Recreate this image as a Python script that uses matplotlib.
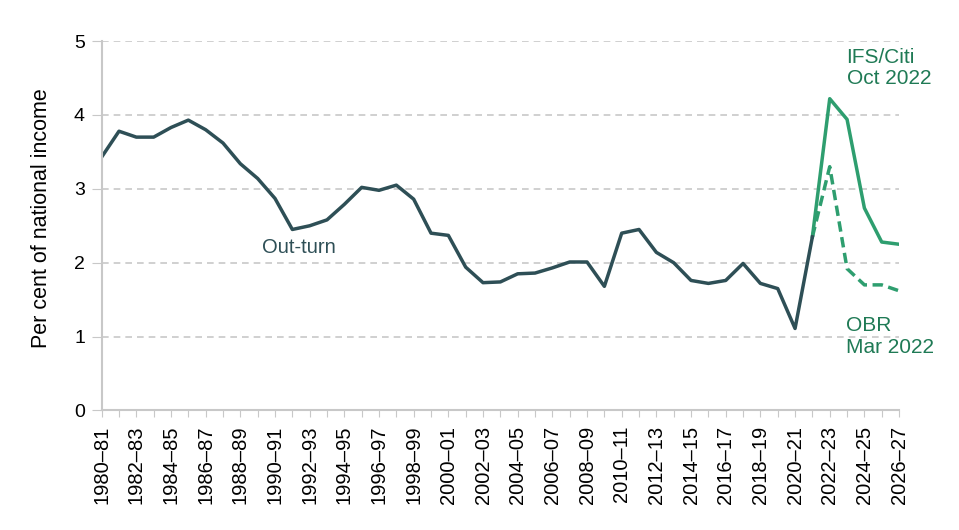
import matplotlib.pyplot as plt

plt.rcParams['font.family'] = ['Liberation Sans', 'DejaVu Sans']

# financial years 1980-81 .. 2026-27
years = ['%d\u2013%02d' % (y, (y + 1) % 100) for y in range(1980, 2027)]

# out-turn, 1980-81 to 2021-22
outturn = [3.43, 3.78, 3.70, 3.70, 3.83, 3.93, 3.80, 3.62, 3.34, 3.14,
           2.87, 2.45, 2.50, 2.58, 2.79, 3.02, 2.98, 3.05, 2.86, 2.40,
           2.37, 1.94, 1.73, 1.74, 1.85, 1.86, 1.93, 2.01, 2.01, 1.68,
           2.40, 2.45, 2.14, 2.00, 1.76, 1.72, 1.76, 1.99, 1.72, 1.65,
           1.11, 2.35]

# forecasts, 2021-22 to 2026-27
ifs_citi = [2.35, 4.22, 3.94, 2.74, 2.28, 2.25]
obr = [2.35, 3.30, 1.92, 1.70, 1.70, 1.62]

dark = '#2e4f56'
green = '#2e9e6f'
green_txt = '#1f7a55'
grey = '#c8c8c8'

fig = plt.figure(figsize=(9.59, 5.30), dpi=100)
ax = fig.add_axes([0.106, 0.2255, 0.8315, 0.697])

x_out = list(range(len(outturn)))
x_fc = list(range(len(outturn) - 1, len(years)))

ax.plot(x_fc, obr, color=green, lw=2.5, ls=(0, (3, 1.6)))
ax.plot(x_fc, ifs_citi, color=green, lw=2.5)
ax.plot(x_out, outturn, color=dark, lw=2.5)

ax.set_xlim(0, len(years) - 1)
ax.set_ylim(0, 5)
ax.set_xticks(range(len(years)))
ax.set_xticklabels([y if i % 2 == 0 else '' for i, y in enumerate(years)],
                   rotation=90, fontsize=14.5)
ax.set_yticks(range(6))
ax.tick_params(axis='y', labelsize=14, length=7, color=grey, pad=5)
ax.tick_params(axis='x', length=5, color=grey, pad=6)

for v in range(1, 6):
    ax.axhline(v, color=grey, lw=1.2, ls=(0, (4, 3)), zorder=0)

for s in ['top', 'right']:
    ax.spines[s].set_visible(False)
for s in ['left', 'bottom']:
    ax.spines[s].set_color(grey)
    ax.spines[s].set_linewidth(1.5)

ax.set_ylabel('Per cent of national income', fontsize=15.5)
ax.yaxis.set_label_coords(-0.062, 0.52)

ax.text(11.36, 2.21, 'Out-turn', color=dark, fontsize=14.5, ha='center', va='center')
ax.text(42.97, 4.64, 'IFS/Citi\nOct 2022', color=green_txt, fontsize=15,
        ha='left', va='center', linespacing=1.15)
ax.text(42.92, 1.0, 'OBR\nMar 2022', color=green_txt, fontsize=15,
        ha='left', va='center', linespacing=1.15)

fig.savefig('out.png', dpi=100)
